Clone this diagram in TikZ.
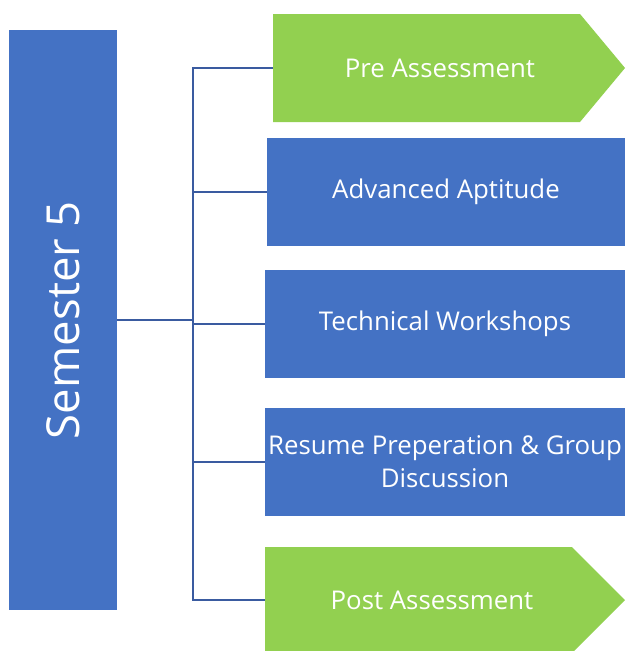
\documentclass[tikz,border=0pt]{standalone}
\usepackage{fontspec}
\setmainfont{Open Sans}
\definecolor{boxblue}{HTML}{4472C4}
\definecolor{boxgreen}{HTML}{92D050}
\definecolor{linkblue}{HTML}{3A5BA0}
\begin{document}
\begin{tikzpicture}[x=1pt,y=-1pt,
        bluebox/.style={rectangle, fill=boxblue, text=white, inner sep=0pt,
                minimum width=360pt, minimum height=108pt, align=center,
                font=\fontsize{25.8}{33}\selectfont},
        greenlabel/.style={rectangle, text=white, inner sep=0pt,
                minimum width=334pt, minimum height=106pt,
                font=\fontsize{25.8}{33}\selectfont},
        link/.style={draw=linkblue, line width=2.2pt}]
                \useasboundingbox (0,0) rectangle (625,651);
                \node[rectangle, fill=boxblue, text=white, rotate=90, minimum width=580pt,
                        minimum height=108pt, inner sep=0pt, font=\fontsize{45.5}{52}\selectfont]
                        (sem) at (63,320) {Semester 5};

                \fill[boxgreen] (273,14) -- (580,14) -- (625,68) -- (580,122) -- (273,122) -- cycle;
                \fill[boxgreen] (265,547) -- (572,547) -- (625,600) -- (572,653) -- (265,653) -- cycle;

                \node[greenlabel] (pre) at (440,68) {Pre Assessment};
                \node[bluebox, minimum width=358pt] (apt) at (446,192) {Advanced Aptitude};
                \node[bluebox] (tech) at (445,324) {Technical Workshops};
                \node[bluebox] (res) at (445,462) {Resume Preperation \& Group\\Discussion};
                \node[greenlabel] (post) at (432,600) {Post Assessment};

                \coordinate (hub) at (193,320);
                \draw[link] (sem.south) -- (hub);
                \draw[link] (hub) |- (pre.west);
                \draw[link] (hub) |- (apt.west);
                \draw[link] (hub) |- (tech.west);
                \draw[link] (hub) |- (res.west);
                \draw[link] (hub) |- (post.west);
            \end{tikzpicture}
\end{document}
